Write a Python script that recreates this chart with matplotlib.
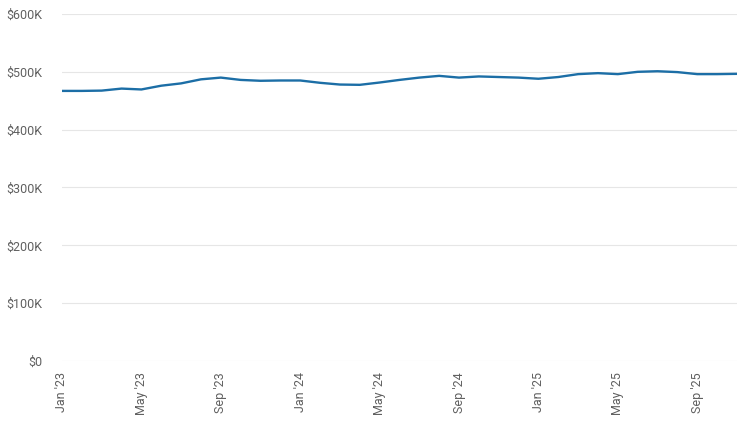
import matplotlib.pyplot as plt
import matplotlib.ticker as mticker

plt.rcParams['font.family'] = ['Roboto', 'DejaVu Sans']

# ----------------------------
# DATA (monthly, Jan 2023 - Nov 2025), values in $K
# ----------------------------
months = ["Jan '23", "Feb '23", "Mar '23", "Apr '23", "May '23", "Jun '23",
          "Jul '23", "Aug '23", "Sep '23", "Oct '23", "Nov '23", "Dec '23",
          "Jan '24", "Feb '24", "Mar '24", "Apr '24", "May '24", "Jun '24",
          "Jul '24", "Aug '24", "Sep '24", "Oct '24", "Nov '24", "Dec '24",
          "Jan '25", "Feb '25", "Mar '25", "Apr '25", "May '25", "Jun '25",
          "Jul '25", "Aug '25", "Sep '25", "Oct '25", "Nov '25"]
values = [467, 467, 467.5, 471, 469.5, 476, 480, 487, 490, 486, 484.5, 485,
          485, 481, 478, 477.5, 481.5, 486, 490, 493, 490, 492, 491, 490,
          488, 491, 496, 497.7, 496, 500, 501, 499.5, 496, 496, 496.5]

yticks = [0, 100, 200, 300, 400, 500, 600]

# ----------------------------
# PLOT
# ----------------------------
fig = plt.figure(figsize=(7.55, 4.25), dpi=100)
ax = fig.add_axes([0.0821, 0.1506, 0.8940, 0.8165])

x = list(range(len(months)))
ax.plot(x, values, color='#1c6ea6', linewidth=1.7, solid_capstyle='round')

ax.set_xlim(0, len(months) - 1)
ax.set_ylim(0, 600)
ax.set_yticks(yticks)
ax.yaxis.set_major_formatter(mticker.FuncFormatter(
    lambda v, p: "$0" if v == 0 else f"${int(v)}K"))

ax.set_xticks(x[::4])
ax.set_xticklabels(months[::4], rotation=90)

ax.grid(axis='y', color='#e6e6e6', linewidth=0.8)
ax.set_axisbelow(True)
for s in ax.spines.values():
    s.set_visible(False)
ax.tick_params(axis='both', length=0, labelsize=9, colors='#606060')
ax.tick_params(axis='y', pad=14)
ax.tick_params(axis='x', pad=8)

plt.savefig("out.png", dpi=100)
